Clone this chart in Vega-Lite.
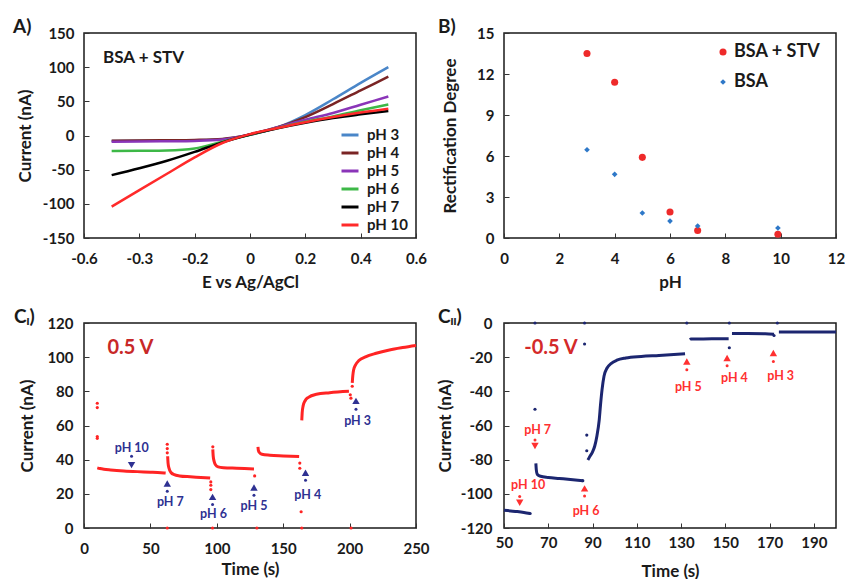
{
  "$schema": "https://vega.github.io/schema/vega-lite/v6.json",
  "background": "white",
  "padding": {"left": 12, "top": 17, "right": 0, "bottom": 0},
  "bounds": "flush",
  "columns": 2,
  "spacing": {"row": 85, "column": 88},
  "resolve": {
    "scale": {"color": "independent", "shape": "independent", "size": "independent", "x": "independent", "y": "independent"},
    "legend": {"color": "independent", "shape": "independent", "size": "independent"}
  },
  "config": {
    "font": "Lato",
    "view": {"stroke": "#1a1a1a", "strokeWidth": 1.5},
    "axis": {"grid": false, "domain": false, "ticks": true, "tickSize": -5, "tickColor": "#333333", "tickWidth": 1,
      "labelFont": "Lato", "labelFontWeight": "bold", "labelFontSize": 15, "labelColor": "#1a1a1a",
      "titleFont": "Lato", "titleFontWeight": "bold", "titleFontSize": 17, "titleColor": "#1a1a1a",
      "labelFlush": false, "labelOverlap": false},
    "title": {"font": "Lato", "fontWeight": "bold", "fontSize": 19, "anchor": "start", "frame": "group", "baseline": "alphabetic", "color": "#1a1a1a", "offset": 0, "dy": 15},
    "legend": {"orient": "none", "title": null, "padding": 0, "labelFont": "Lato", "labelFontWeight": "bold", "labelColor": "#1a1a1a"}
  },
  "datasets": {
    "iv": [
      {"pH": "pH 3", "E": -0.5, "I": -8}, {"pH": "pH 3", "E": -0.4, "I": -7.8}, {"pH": "pH 3", "E": -0.3, "I": -7.5}, {"pH": "pH 3", "E": -0.2, "I": -7}, {"pH": "pH 3", "E": -0.1, "I": -5.5}, {"pH": "pH 3", "E": 0, "I": 1}, {"pH": "pH 3", "E": 0.1, "I": 12}, {"pH": "pH 3", "E": 0.2, "I": 30}, {"pH": "pH 3", "E": 0.3, "I": 53}, {"pH": "pH 3", "E": 0.4, "I": 77}, {"pH": "pH 3", "E": 0.5, "I": 100},
      {"pH": "pH 4", "E": -0.5, "I": -7.5}, {"pH": "pH 4", "E": -0.4, "I": -7.3}, {"pH": "pH 4", "E": -0.3, "I": -7}, {"pH": "pH 4", "E": -0.2, "I": -6.5}, {"pH": "pH 4", "E": -0.1, "I": -5}, {"pH": "pH 4", "E": 0, "I": 1.5}, {"pH": "pH 4", "E": 0.1, "I": 12}, {"pH": "pH 4", "E": 0.2, "I": 27}, {"pH": "pH 4", "E": 0.3, "I": 46}, {"pH": "pH 4", "E": 0.4, "I": 66}, {"pH": "pH 4", "E": 0.5, "I": 86},
      {"pH": "pH 5", "E": -0.5, "I": -9}, {"pH": "pH 5", "E": -0.4, "I": -8.8}, {"pH": "pH 5", "E": -0.3, "I": -8.5}, {"pH": "pH 5", "E": -0.2, "I": -8}, {"pH": "pH 5", "E": -0.1, "I": -6}, {"pH": "pH 5", "E": 0, "I": 1.5}, {"pH": "pH 5", "E": 0.1, "I": 12}, {"pH": "pH 5", "E": 0.2, "I": 23}, {"pH": "pH 5", "E": 0.3, "I": 33}, {"pH": "pH 5", "E": 0.4, "I": 45}, {"pH": "pH 5", "E": 0.5, "I": 57},
      {"pH": "pH 6", "E": -0.5, "I": -22.7}, {"pH": "pH 6", "E": -0.4, "I": -22.3}, {"pH": "pH 6", "E": -0.3, "I": -21.8}, {"pH": "pH 6", "E": -0.2, "I": -19}, {"pH": "pH 6", "E": -0.1, "I": -9}, {"pH": "pH 6", "E": 0, "I": 1}, {"pH": "pH 6", "E": 0.1, "I": 11}, {"pH": "pH 6", "E": 0.2, "I": 20}, {"pH": "pH 6", "E": 0.3, "I": 28}, {"pH": "pH 6", "E": 0.4, "I": 37}, {"pH": "pH 6", "E": 0.5, "I": 45.5},
      {"pH": "pH 7", "E": -0.5, "I": -58}, {"pH": "pH 7", "E": -0.4, "I": -48}, {"pH": "pH 7", "E": -0.3, "I": -37}, {"pH": "pH 7", "E": -0.2, "I": -24}, {"pH": "pH 7", "E": -0.1, "I": -10}, {"pH": "pH 7", "E": 0, "I": 1.5}, {"pH": "pH 7", "E": 0.1, "I": 10.5}, {"pH": "pH 7", "E": 0.2, "I": 18.5}, {"pH": "pH 7", "E": 0.3, "I": 25.5}, {"pH": "pH 7", "E": 0.4, "I": 31}, {"pH": "pH 7", "E": 0.5, "I": 36},
      {"pH": "pH 10", "E": -0.5, "I": -104}, {"pH": "pH 10", "E": -0.4, "I": -80}, {"pH": "pH 10", "E": -0.3, "I": -56}, {"pH": "pH 10", "E": -0.2, "I": -32}, {"pH": "pH 10", "E": -0.1, "I": -11}, {"pH": "pH 10", "E": 0, "I": 2}, {"pH": "pH 10", "E": 0.1, "I": 11}, {"pH": "pH 10", "E": 0.2, "I": 19.5}, {"pH": "pH 10", "E": 0.3, "I": 27}, {"pH": "pH 10", "E": 0.4, "I": 33.5}, {"pH": "pH 10", "E": 0.5, "I": 39}
    ],
    "ivText": [{"E": -0.531, "I": 113, "txt": "BSA + STV"}],
    "rect": [
      {"series": "BSA + STV", "pH": 3, "RD": 13.5}, {"series": "BSA + STV", "pH": 4, "RD": 11.4}, {"series": "BSA + STV", "pH": 5, "RD": 5.9}, {"series": "BSA + STV", "pH": 6, "RD": 1.9}, {"series": "BSA + STV", "pH": 7, "RD": 0.55}, {"series": "BSA + STV", "pH": 9.9, "RD": 0.27},
      {"series": "BSA", "pH": 3, "RD": 6.46}, {"series": "BSA", "pH": 4, "RD": 4.66}, {"series": "BSA", "pH": 5, "RD": 1.83}, {"series": "BSA", "pH": 6, "RD": 1.24}, {"series": "BSA", "pH": 7, "RD": 0.88}, {"series": "BSA", "pH": 9.9, "RD": 0.73}
    ],
    "ci": [
      {"seg": 1, "t": 10, "I": 35.2}, {"seg": 1, "t": 12, "I": 34.8}, {"seg": 1, "t": 15, "I": 34.4}, {"seg": 1, "t": 20, "I": 34}, {"seg": 1, "t": 30, "I": 33.4}, {"seg": 1, "t": 40, "I": 33}, {"seg": 1, "t": 50, "I": 32.7}, {"seg": 1, "t": 58, "I": 32.4}, {"seg": 1, "t": 61.5, "I": 32.2},
      {"seg": 2, "t": 63, "I": 42}, {"seg": 2, "t": 63.3, "I": 38}, {"seg": 2, "t": 64, "I": 35}, {"seg": 2, "t": 65.5, "I": 32.5}, {"seg": 2, "t": 68, "I": 31.2}, {"seg": 2, "t": 72, "I": 30.5}, {"seg": 2, "t": 80, "I": 30}, {"seg": 2, "t": 88, "I": 29.6}, {"seg": 2, "t": 95, "I": 29.2},
      {"seg": 3, "t": 97, "I": 46}, {"seg": 3, "t": 97.3, "I": 42}, {"seg": 3, "t": 98, "I": 39}, {"seg": 3, "t": 99, "I": 37}, {"seg": 3, "t": 101, "I": 35.8}, {"seg": 3, "t": 105, "I": 35.3}, {"seg": 3, "t": 115, "I": 35}, {"seg": 3, "t": 128, "I": 34.6},
      {"seg": 4, "t": 131, "I": 47.5}, {"seg": 4, "t": 131.3, "I": 45.5}, {"seg": 4, "t": 132.3, "I": 44}, {"seg": 4, "t": 134, "I": 43.2}, {"seg": 4, "t": 140, "I": 42.6}, {"seg": 4, "t": 150, "I": 42.2}, {"seg": 4, "t": 162, "I": 41.8},
      {"seg": 5, "t": 164, "I": 63}, {"seg": 5, "t": 164.3, "I": 67.5}, {"seg": 5, "t": 165, "I": 71.5}, {"seg": 5, "t": 166.5, "I": 74.5}, {"seg": 5, "t": 169, "I": 76.5}, {"seg": 5, "t": 175, "I": 78.3}, {"seg": 5, "t": 185, "I": 79.2}, {"seg": 5, "t": 199.5, "I": 80},
      {"seg": 6, "t": 202, "I": 85}, {"seg": 6, "t": 202.4, "I": 89}, {"seg": 6, "t": 203, "I": 92.5}, {"seg": 6, "t": 204.5, "I": 95.5}, {"seg": 6, "t": 207, "I": 98}, {"seg": 6, "t": 212, "I": 100.2}, {"seg": 6, "t": 220, "I": 102.3}, {"seg": 6, "t": 230, "I": 104.2}, {"seg": 6, "t": 240, "I": 105.6}, {"seg": 6, "t": 250, "I": 106.8}
    ],
    "ciPts": [
      {"t": 10, "I": 73}, {"t": 10, "I": 70.5}, {"t": 10, "I": 53.5}, {"t": 10, "I": 52.5}, {"t": 62.7, "I": 49}, {"t": 62.7, "I": 46.5}, {"t": 62.7, "I": 44}, {"t": 62.7, "I": 0},
      {"t": 95.5, "I": 27}, {"t": 95.5, "I": 25}, {"t": 95.5, "I": 22.5}, {"t": 96.8, "I": 0}, {"t": 97, "I": 47.5}, {"t": 128.5, "I": 30.5}, {"t": 130.2, "I": 0},
      {"t": 162.5, "I": 38}, {"t": 162.5, "I": 35}, {"t": 163.5, "I": 9.5}, {"t": 164, "I": 0}, {"t": 200.5, "I": 78}, {"t": 201, "I": 76}, {"t": 201.1, "I": 0}, {"t": 202, "I": 83}
    ],
    "ciAnn": [
      {"kind": "down", "t": 35.8, "I": 36.8}, {"kind": "dot", "t": 35.8, "I": 42}, {"kind": "label", "t": 36, "I": 46.6, "txt": "pH 10"},
      {"kind": "up", "t": 62.7, "I": 26}, {"kind": "dot", "t": 62.7, "I": 21.5}, {"kind": "label", "t": 65, "I": 15.3, "txt": "pH 7"},
      {"kind": "up", "t": 96.8, "I": 18.2}, {"kind": "dot", "t": 96.8, "I": 13.7}, {"kind": "label", "t": 97.5, "I": 8.4, "txt": "pH 6"},
      {"kind": "up", "t": 128, "I": 23.7}, {"kind": "dot", "t": 128, "I": 19.2}, {"kind": "label", "t": 128, "I": 12.9, "txt": "pH 5"},
      {"kind": "up", "t": 166.8, "I": 32.3}, {"kind": "dot", "t": 166.8, "I": 28}, {"kind": "label", "t": 168.5, "I": 19.2, "txt": "pH 4"},
      {"kind": "up", "t": 204.8, "I": 74.4}, {"kind": "dot", "t": 204.8, "I": 69.5}, {"kind": "label", "t": 206, "I": 62.6, "txt": "pH 3"},
      {"kind": "volt", "t": 35, "I": 105.3, "txt": "0.5 V"}
    ],
    "cii": [
      {"seg": 1, "t": 50, "I": -109.6}, {"seg": 1, "t": 53, "I": -110}, {"seg": 1, "t": 56, "I": -110.4}, {"seg": 1, "t": 59, "I": -110.9}, {"seg": 1, "t": 61.8, "I": -111.5},
      {"seg": 2, "t": 64.4, "I": -82.2}, {"seg": 2, "t": 64.6, "I": -86}, {"seg": 2, "t": 65, "I": -88.5}, {"seg": 2, "t": 66.5, "I": -89.7}, {"seg": 2, "t": 70, "I": -90.4}, {"seg": 2, "t": 75, "I": -91}, {"seg": 2, "t": 80, "I": -91.6}, {"seg": 2, "t": 85.6, "I": -92.3},
      {"seg": 3, "t": 87.9, "I": -80.2}, {"seg": 3, "t": 88.6, "I": -78.5}, {"seg": 3, "t": 90, "I": -75.5}, {"seg": 3, "t": 91, "I": -72}, {"seg": 3, "t": 92, "I": -66}, {"seg": 3, "t": 93, "I": -57}, {"seg": 3, "t": 93.6, "I": -48}, {"seg": 3, "t": 94.3, "I": -39}, {"seg": 3, "t": 95.2, "I": -31}, {"seg": 3, "t": 96.5, "I": -26.5}, {"seg": 3, "t": 98.5, "I": -23.6}, {"seg": 3, "t": 101, "I": -21.8}, {"seg": 3, "t": 105, "I": -20.5}, {"seg": 3, "t": 112, "I": -19.6}, {"seg": 3, "t": 120, "I": -19}, {"seg": 3, "t": 131.8, "I": -18},
      {"seg": 4, "t": 134, "I": -9.8}, {"seg": 4, "t": 134.5, "I": -9.4}, {"seg": 4, "t": 140, "I": -9.3}, {"seg": 4, "t": 151.5, "I": -9.2},
      {"seg": 5, "t": 153, "I": -6.2}, {"seg": 5, "t": 160, "I": -6.2}, {"seg": 5, "t": 168, "I": -6.3}, {"seg": 5, "t": 172, "I": -6.6},
      {"seg": 6, "t": 174.2, "I": -5.2}, {"seg": 6, "t": 185, "I": -5.2}, {"seg": 6, "t": 200, "I": -5.3}
    ],
    "ciiPts": [
      {"t": 64, "I": 0}, {"t": 64, "I": -50.5}, {"t": 86.4, "I": 0}, {"t": 86.4, "I": -12.3}, {"t": 87.4, "I": -65.6}, {"t": 87.4, "I": -74.8},
      {"t": 132.6, "I": 0}, {"t": 151.8, "I": 0}, {"t": 151.8, "I": -14.5}, {"t": 173.5, "I": 0}, {"t": 172, "I": -7.3}, {"t": 61.8, "I": -111.5}, {"t": 85.6, "I": -92.3}
    ],
    "ciiAnn": [
      {"kind": "down", "t": 57.1, "I": -105.2}, {"kind": "dot", "t": 57.1, "I": -101.6}, {"kind": "label", "t": 60.9, "I": -95, "txt": "pH 10"},
      {"kind": "down", "t": 64, "I": -72}, {"kind": "dot", "t": 64, "I": -68.5}, {"kind": "label", "t": 65.2, "I": -62.6, "txt": "pH 7"},
      {"kind": "up", "t": 86.4, "I": -96.8}, {"kind": "dot", "t": 86.4, "I": -101.3}, {"kind": "label", "t": 87.1, "I": -109.9, "txt": "pH 6"},
      {"kind": "up", "t": 132.6, "I": -22.5}, {"kind": "dot", "t": 132.6, "I": -27.3}, {"kind": "label", "t": 133.3, "I": -37.5, "txt": "pH 5"},
      {"kind": "up", "t": 150.8, "I": -20.5}, {"kind": "dot", "t": 150.8, "I": -25}, {"kind": "label", "t": 154.1, "I": -32.2, "txt": "pH 4"},
      {"kind": "up", "t": 171.7, "I": -17.6}, {"kind": "dot", "t": 171.7, "I": -22.5}, {"kind": "label", "t": 175, "I": -31, "txt": "pH 3"},
      {"kind": "volt", "t": 71.2, "I": -14.8, "txt": "-0.5 V"}
    ]
  },
  "concat": [
    {
      "width": 332, "height": 205,
      "title": {"text": "A)", "dx": -71},
      "encoding": {
        "x": {"field": "E", "type": "quantitative", "scale": {"domain": [-0.6, 0.6], "nice": false},
          "axis": {"values": [-0.6, -0.4, -0.2, 0, 0.2, 0.4, 0.6], "labelOverlap": false, "labelExpr": "abs(datum.value + 0.4) < 0.001 ? '-0.3' : (abs(datum.value) < 0.001 ? '0' : toString(round(datum.value * 10) / 10))", "title": "E vs Ag/AgCl", "labelPadding": 18, "titlePadding": 8}},
        "y": {"field": "I", "type": "quantitative", "scale": {"domain": [-150, 150], "nice": false},
          "axis": {"values": [-150, -100, -50, 0, 50, 100, 150], "labelOverlap": false, "labelExpr": "toString(datum.value)", "title": "Current (nA)", "labelPadding": 15, "titlePadding": 8}}
      },
      "layer": [
        {
          "data": {"name": "iv"},
          "mark": {"type": "line", "strokeWidth": 2.5, "interpolate": "monotone"},
          "encoding": {
            "color": {"field": "pH", "type": "nominal",
              "scale": {"domain": ["pH 3", "pH 4", "pH 5", "pH 6", "pH 7", "pH 10"], "range": ["#4a86c8", "#7a2424", "#8a35b8", "#3db847", "#000000", "#ff2a2a"]},
              "legend": {"legendX": 256, "legendY": 92, "symbolType": "stroke", "symbolSize": 289, "symbolStrokeWidth": 3, "labelFontSize": 15, "labelOffset": 7, "rowPadding": -1}}
          }
        },
        {
          "data": {"name": "ivText"},
          "mark": {"type": "text", "align": "left", "baseline": "middle", "fontSize": 17, "fontWeight": "bold", "font": "Lato", "color": "#1a1a1a"},
          "encoding": {"text": {"field": "txt"}}
        }
      ]
    },
    {
      "width": 332, "height": 205,
      "title": {"text": "B)", "dx": -66},
      "data": {"name": "rect"},
      "mark": {"type": "point", "filled": true, "opacity": 1},
      "encoding": {
        "x": {"field": "pH", "type": "quantitative", "scale": {"domain": [0, 12], "nice": false},
          "axis": {"values": [0, 2, 4, 6, 8, 10, 12], "labelOverlap": false, "title": "pH", "labelPadding": 18, "titlePadding": 8}},
        "y": {"field": "RD", "type": "quantitative", "scale": {"domain": [0, 15], "nice": false},
          "axis": {"values": [0, 3, 6, 9, 12, 15], "labelOverlap": false, "title": "Rectification Degree", "labelPadding": 15, "titlePadding": 17}},
        "color": {"field": "series", "type": "nominal", "scale": {"domain": ["BSA + STV", "BSA"], "range": ["#ee2a2a", "#2e78c8"]},
          "legend": {"legendX": 210, "legendY": 10, "labelFontSize": 18, "labelOffset": 2, "rowPadding": 12}},
        "shape": {"field": "series", "type": "nominal", "scale": {"domain": ["BSA + STV", "BSA"], "range": ["circle", "diamond"]}},
        "size": {"field": "series", "type": "nominal", "scale": {"domain": ["BSA + STV", "BSA"], "range": [50, 32]}}
      }
    },
    {
      "width": 332, "height": 205,
      "title": {"text": "Cᵢ)", "dx": -70},
      "encoding": {
        "x": {"field": "t", "type": "quantitative", "scale": {"domain": [0, 250], "nice": false},
          "axis": {"values": [0, 50, 100, 150, 200, 250], "labelOverlap": false, "title": "Time (s)", "labelPadding": 18, "titlePadding": 5}},
        "y": {"field": "I", "type": "quantitative", "scale": {"domain": [0, 120], "nice": false},
          "axis": {"values": [0, 20, 40, 60, 80, 100, 120], "labelOverlap": false, "title": "Current (nA)", "labelPadding": 16, "titlePadding": 10}}
      },
      "layer": [
        {
          "data": {"name": "ci"},
          "mark": {"type": "line", "strokeWidth": 3, "color": "#ff2424", "interpolate": "monotone"},
          "encoding": {"detail": {"field": "seg"}}
        },
        {
          "data": {"name": "ciPts"},
          "mark": {"type": "point", "filled": true, "size": 10, "color": "#ff2424", "opacity": 1}
        },
        {
          "data": {"name": "ciAnn"},
          "transform": [{"filter": "datum.kind == 'up' || datum.kind == 'down'"}],
          "mark": {"type": "point", "filled": true, "size": 55, "color": "#2e3192", "opacity": 1},
          "encoding": {"shape": {"field": "kind", "type": "nominal", "scale": {"domain": ["up", "down"], "range": ["triangle-up", "triangle-down"]}, "legend": null}}
        },
        {
          "data": {"name": "ciAnn"},
          "transform": [{"filter": "datum.kind == 'dot'"}],
          "mark": {"type": "point", "filled": true, "size": 9, "color": "#2e3192", "opacity": 1}
        },
        {
          "data": {"name": "ciAnn"},
          "transform": [{"filter": "datum.kind == 'label'"}],
          "mark": {"type": "text", "fontSize": 12.5, "fontWeight": "bold", "font": "Lato", "color": "#2e3192", "baseline": "middle"},
          "encoding": {"text": {"field": "txt"}}
        },
        {
          "data": {"name": "ciAnn"},
          "transform": [{"filter": "datum.kind == 'volt'"}],
          "mark": {"type": "text", "fontSize": 20, "fontWeight": "bold", "font": "Lato", "color": "#c82828", "baseline": "middle"},
          "encoding": {"text": {"field": "txt"}}
        }
      ]
    },
    {
      "width": 332, "height": 205,
      "title": {"text": "Cᵢᵢ)", "dx": -66},
      "encoding": {
        "x": {"field": "t", "type": "quantitative", "scale": {"domain": [50, 200], "nice": false},
          "axis": {"values": [50, 70, 90, 110, 130, 150, 170, 190], "labelOverlap": false, "title": "Time (s)", "labelPadding": 12, "titlePadding": 13}},
        "y": {"field": "I", "type": "quantitative", "scale": {"domain": [-120, 0], "nice": false},
          "axis": {"values": [-120, -100, -80, -60, -40, -20, 0], "labelOverlap": false, "labelExpr": "toString(datum.value)", "title": "Current (nA)", "labelPadding": 17, "titlePadding": 6}}
      },
      "layer": [
        {
          "data": {"name": "cii"},
          "mark": {"type": "line", "strokeWidth": 3, "color": "#1c2670", "interpolate": "monotone"},
          "encoding": {"detail": {"field": "seg"}}
        },
        {
          "data": {"name": "ciiPts"},
          "mark": {"type": "point", "filled": true, "size": 10, "color": "#1c2670", "opacity": 1}
        },
        {
          "data": {"name": "ciiAnn"},
          "transform": [{"filter": "datum.kind == 'up' || datum.kind == 'down'"}],
          "mark": {"type": "point", "filled": true, "size": 55, "color": "#ff3030", "opacity": 1},
          "encoding": {"shape": {"field": "kind", "type": "nominal", "scale": {"domain": ["up", "down"], "range": ["triangle-up", "triangle-down"]}, "legend": null}}
        },
        {
          "data": {"name": "ciiAnn"},
          "transform": [{"filter": "datum.kind == 'dot'"}],
          "mark": {"type": "point", "filled": true, "size": 9, "color": "#ff3030", "opacity": 1}
        },
        {
          "data": {"name": "ciiAnn"},
          "transform": [{"filter": "datum.kind == 'label'"}],
          "mark": {"type": "text", "fontSize": 12.5, "fontWeight": "bold", "font": "Lato", "color": "#ff3030", "baseline": "middle"},
          "encoding": {"text": {"field": "txt"}}
        },
        {
          "data": {"name": "ciiAnn"},
          "transform": [{"filter": "datum.kind == 'volt'"}],
          "mark": {"type": "text", "fontSize": 20, "fontWeight": "bold", "font": "Lato", "color": "#d42a2a", "baseline": "middle"},
          "encoding": {"text": {"field": "txt"}}
        }
      ]
    }
  ]
}
